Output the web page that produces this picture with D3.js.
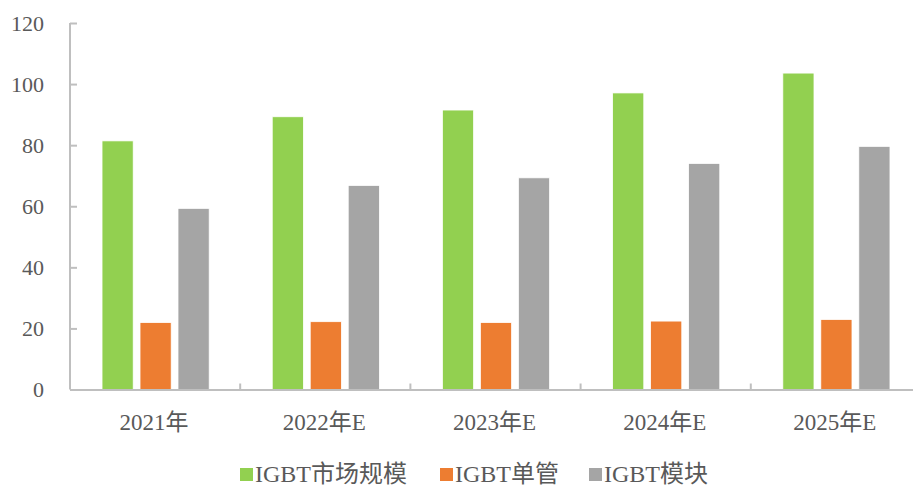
<!DOCTYPE html>
<html><head><meta charset="utf-8">
<script src="https://cdn.jsdelivr.net/npm/d3@7"></script>
<style>body{margin:0;background:#fff}svg{display:block}</style>
</head><body>
<svg id="c" width="913" height="486"></svg>
<script>
const categories = ["2021年","2022年E","2023年E","2024年E","2025年E"];
const seriesNames = ["IGBT市场规模","IGBT单管","IGBT模块"];
const marketSize = [81.4, 89.3, 91.5, 97.1, 103.6];
const discrete = [21.9, 22.2, 21.9, 22.4, 22.9];
const modules = [59.3, 66.8, 69.3, 74.0, 79.6];
const yTicks = [0, 20, 40, 60, 80, 100, 120];
const colors = ["#92D050", "#ED7D31", "#A5A5A5"];

const series = [marketSize, discrete, modules];
const svg = d3.select("#c");
const font = "'Liberation Serif','Times New Roman','Noto Sans CJK SC',serif";
const textCol = "#595959", axisCol = "#BFBFBF";

const x = d3.scaleBand().domain(categories).range([70, 921]).paddingInner(0).paddingOuter(0);
const y = d3.scaleLinear().domain([0, 120]).range([389.5, 23]);
const xs = d3.scaleBand().domain(d3.range(3)).range([0, x.bandwidth()]).paddingInner(0.18).paddingOuter(0.83);

// bars
series.forEach((vals, si) => {
  svg.append("g").selectAll("rect").data(vals).join("rect")
    .attr("x", (d, i) => x(categories[i]) + xs(si) + 0.5)
    .attr("width", xs.bandwidth())
    .attr("y", d => y(d))
    .attr("height", d => y(0) - y(d))
    .attr("fill", colors[si])
    .attr("stroke", "#fff").attr("stroke-width", 0.75);
});

// y axis
const yAxis = svg.append("g").attr("transform", "translate(70,0)")
  .call(d3.axisRight(y).tickValues(yTicks).tickSize(7).tickFormat(""));
yAxis.select(".domain").attr("stroke", axisCol).attr("stroke-width", 2).attr("d", `M0,${y(120)}V${y(0)}`);
yAxis.selectAll(".tick line").attr("stroke", axisCol).attr("stroke-width", 2);
svg.append("g").selectAll("text").data(yTicks).join("text")
  .attr("x", 44).attr("y", d => y(d)).attr("dy", "0.35em")
  .attr("text-anchor", "end").attr("fill", textCol)
  .style("font-family", font).style("font-size", "22px").text(d => d);

// x axis
const xAxis = svg.append("g").attr("transform", `translate(0,${y(0)})`)
  .call(d3.axisBottom(x).tickSize(0).tickFormat(""));
xAxis.select(".domain").attr("stroke", axisCol).attr("stroke-width", 2);
xAxis.selectAll(".tick").remove();
const bounds = categories.map(c => x(c)).concat([x.range()[1]]);
svg.append("g").selectAll("line").data(bounds.slice(1)).join("line")
  .attr("x1", d => d).attr("x2", d => d)
  .attr("y1", y(0)).attr("y2", y(0) - 6)
  .attr("stroke", axisCol).attr("stroke-width", 2);
svg.append("g").selectAll("text").data(categories).join("text")
  .attr("x", d => x(d) + x.bandwidth() / 2 - 1).attr("y", 430)
  .attr("text-anchor", "middle").attr("fill", textCol)
  .style("font-family", font).style("font-size", "23px").text(d => d);

// legend
const legendX = [240, 440, 589];
const lg = svg.append("g").selectAll("g").data(seriesNames).join("g")
  .attr("transform", (d, i) => `translate(${legendX[i]},0)`);
lg.append("rect").attr("x", 0).attr("y", 468).attr("width", 13).attr("height", 13)
  .attr("fill", (d, i) => colors[i]);
lg.append("text").attr("x", 15).attr("y", 482).attr("fill", textCol)
  .style("font-family", font).style("font-size", "24px").text(d => d);
</script>
</body></html>
